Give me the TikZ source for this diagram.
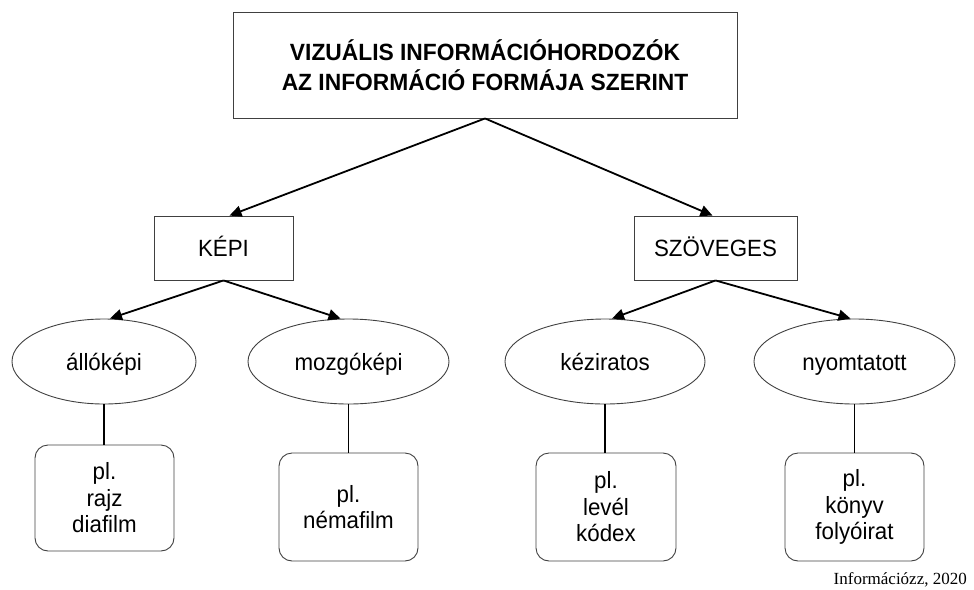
\documentclass[tikz,border=0pt]{standalone}
\usepackage{fontspec}
\setmainfont{Liberation Sans}[FakeStretch=0.95]
\newfontfamily\headfont{Liberation Sans}[FakeStretch=0.97]
\newfontfamily\footserif{Liberation Serif}
\usetikzlibrary{shapes.geometric,arrows.meta}
\begin{document}
\begin{tikzpicture}[x=1pt,y=-1pt,
  frame/.style={draw=black!75,line width=0.9pt,inner sep=0pt,align=center,
    font=\fontsize{23.5}{26.5}\selectfont},
  oneline/.style={text height=20pt,text depth=3pt},
  titlebox/.style={frame,minimum width=504pt,minimum height=106pt,
    font=\headfont\bfseries\fontsize{23.5}{30}\selectfont},
  catbox/.style={frame,oneline,minimum height=64pt},
  kind/.style={frame,oneline,ellipse,minimum height=85pt},
  example/.style={frame,rounded corners=13pt,minimum width=139pt,minimum height=108pt},
  arr/.style={line width=1.8pt,-{Triangle[length=12pt,width=11pt]}},
  link/.style={line width=1.8pt}]
\useasboundingbox (0,0) rectangle (974,589);

\node[titlebox] (top) at (485,65) {VIZUÁLIS INFORMÁCIÓHORDOZÓK\\AZ INFORMÁCIÓ FORMÁJA SZERINT};

\node[catbox,minimum width=139pt] (kepi) at (223.5,248) {KÉPI};
\node[catbox,minimum width=163pt] (szov) at (715.5,248) {SZÖVEGES};

\node[kind,minimum width=184pt] (allo) at (104,361.5) {állóképi};
\node[kind,minimum width=201pt] (mozgo) at (348.5,361.5) {mozgóképi};
\node[kind,minimum width=200pt] (kez) at (605,361.5) {kéziratos};
\node[kind,minimum width=201pt] (nyom) at (854.5,361.5) {nyomtatott};

\node[example,minimum height=106pt] (ex1) at (104.5,498) {pl.\\rajz\\diafilm};
\node[example] (ex2) at (348.5,507) {pl.\\némafilm};
\node[example,minimum width=140pt] (ex3) at (606,507) {pl.\\levél\\kódex};
\node[example] (ex4) at (854.5,507) {pl.\\könyv\\folyóirat};

\draw[arr] (top.south) -- ([xshift=6pt]kepi.north);
\draw[arr] (top.south) -- ([xshift=-3pt]szov.north);
\draw[arr] (kepi.south) -- ([xshift=6pt]allo.north);
\draw[arr] (kepi.south) -- ([xshift=-8pt]mozgo.north);
\draw[arr] (szov.south) -- ([xshift=7pt]kez.north);
\draw[arr] (szov.south) -- ([xshift=-4pt]nyom.north);

\draw[link] (allo.south) -- (allo.south |- ex1.north);
\draw[link] (mozgo.south) -- (mozgo.south |- ex2.north);
\draw[link] (kez.south) -- (kez.south |- ex3.north);
\draw[link] (nyom.south) -- (nyom.south |- ex4.north);

\node[anchor=base east,inner sep=0pt,font=\footserif\fontsize{17}{17}\selectfont] (credit) at (967,584) {Információzz, 2020};
\end{tikzpicture}
\end{document}
